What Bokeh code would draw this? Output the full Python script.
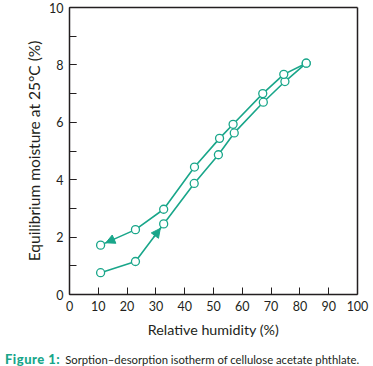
from bokeh.plotting import figure
from bokeh.models import Range1d, SingleIntervalTicker, FixedTicker, Arrow, NormalHead, ColumnDataSource, LinearAxis, Div
from bokeh.layouts import column
from bokeh.embed import file_html
from bokeh.resources import INLINE

# Data
sorp_rh = [10.8, 22.9, 32.7, 43.3, 51.7, 57.2, 67.3, 74.8, 82.2]
sorp_m = [0.76, 1.15, 2.46, 3.87, 4.87, 5.63, 6.70, 7.42, 8.06]
desorp_rh = [82.2, 74.4, 67.1, 56.8, 52.1, 43.4, 32.7, 22.9, 10.8]
desorp_m = [8.06, 7.67, 7.00, 5.93, 5.44, 4.44, 2.97, 2.26, 1.72]
x_ticks = [0, 10, 20, 30, 40, 50, 60, 70, 80, 90, 100]
caption_head = "Figure 1:"
caption_text = "Sorption\u2013desorption isotherm of cellulose acetate phthlate."

TEAL = "#19a68a"
DARK = "#231f20"
FONT = "Lato"

p = figure(width=373, height=340, output_backend="svg", toolbar_location=None,
           x_range=Range1d(0, 100), y_range=Range1d(0, 10),
           min_border_left=69, min_border_right=16, min_border_top=7, min_border_bottom=46)
p.grid.visible = False
p.outline_line_color = None
p.background_fill_color = "white"
p.border_fill_color = "white"

# axes
p.xaxis.ticker = FixedTicker(ticks=x_ticks)
p.yaxis.ticker = SingleIntervalTicker(interval=2, num_minor_ticks=2)
for ax in (p.xaxis[0], p.yaxis[0]):
    ax.axis_line_color = DARK
    ax.axis_line_width = 1.5
    ax.major_tick_in = 7
    ax.major_tick_out = 0
    ax.minor_tick_in = 7
    ax.minor_tick_out = 0
    ax.major_tick_line_color = DARK
    ax.minor_tick_line_color = DARK
    ax.major_label_text_font = FONT
    ax.major_label_text_font_size = "12.5px"
    ax.major_label_text_color = DARK
    ax.axis_label_text_font = FONT
    ax.axis_label_text_font_style = "normal"
    ax.axis_label_text_color = DARK
    ax.major_label_standoff = 6
p.xaxis.minor_tick_line_color = None
p.xaxis.axis_label = "Relative humidity (%)"
p.yaxis.axis_label = "Equilibrium moisture at 25\u00b0C (%)"
p.xaxis.axis_label_text_font_size = "14.3px"
p.yaxis.axis_label_text_font_size = "15.5px"
p.xaxis.axis_label_standoff = 7
p.yaxis.axis_label_standoff = 3

# frame lines top and right
for loc in ("above", "right"):
    a = LinearAxis(axis_line_color=DARK, axis_line_width=1.5,
                   ticker=FixedTicker(ticks=[]),
                   major_tick_line_color=None, minor_tick_line_color=None)
    p.add_layout(a, loc)

src_s = ColumnDataSource(dict(x=sorp_rh, y=sorp_m))
src_d = ColumnDataSource(dict(x=desorp_rh, y=desorp_m))
for src in (src_s, src_d):
    p.line("x", "y", source=src, line_color=TEAL, line_width=1.6)
    p.scatter("x", "y", source=src, size=8, marker="circle", fill_color="white",
              line_color=TEAL, line_width=1.3)

def interp(xs, ys, i, f):
    return xs[i] + f * (xs[i + 1] - xs[i]), ys[i] + f * (ys[i + 1] - ys[i])

# sorption arrow (between 2nd and 3rd point, pointing up)
sx0, sy0 = interp(sorp_rh, sorp_m, 1, 0.65)
sx1, sy1 = interp(sorp_rh, sorp_m, 1, 0.88)
p.add_layout(Arrow(end=NormalHead(size=9, fill_color=TEAL, line_color=TEAL),
                   x_start=sx0, y_start=sy0, x_end=sx1, y_end=sy1,
                   line_color=TEAL, line_width=1.6))
# desorption arrow (between last two points, pointing left)
dx0, dy0 = interp(desorp_rh, desorp_m, 7, 0.6)
dx1, dy1 = interp(desorp_rh, desorp_m, 7, 0.85)
p.add_layout(Arrow(end=NormalHead(size=9, fill_color=TEAL, line_color=TEAL),
                   x_start=dx0, y_start=dy0, x_end=dx1, y_end=dy1,
                   line_color=TEAL, line_width=1.6))

cap = Div(text=(f'<span style="color:{TEAL};font-weight:900;font-size:13px;letter-spacing:0.5px">{caption_head}</span>'
                f'<span style="margin-left:5px">{caption_text}</span>'),
          width=373, height=26,
          styles={"font-family": FONT, "font-size": "11.3px", "color": DARK,
                  "line-height": "13px", "padding-top": "8px", "padding-left": "0px",
                  "white-space": "nowrap", "box-sizing": "border-box"})

layout = column(p, cap, spacing=0)
open("out.html", "w").write(file_html(layout, INLINE))
